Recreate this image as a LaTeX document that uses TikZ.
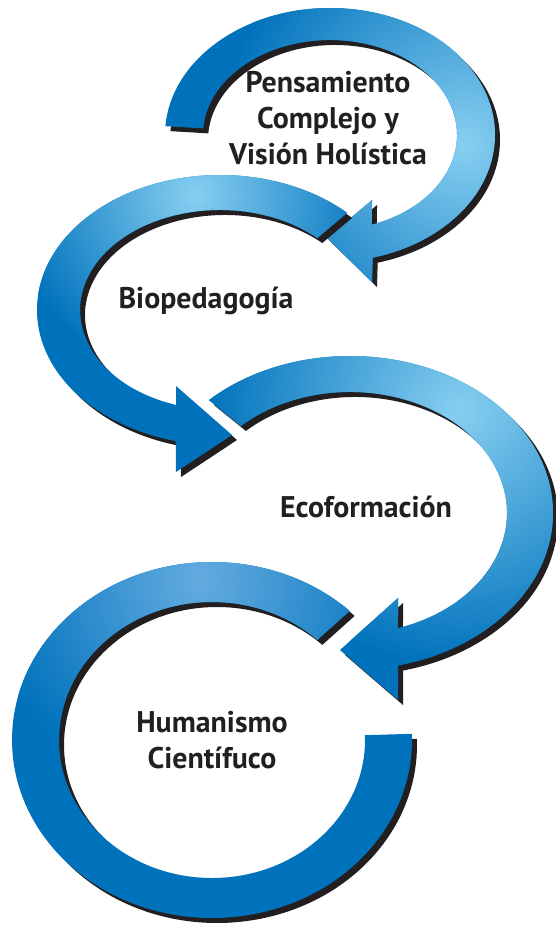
\documentclass[tikz,border=0pt]{standalone}
\usepackage{fontspec}
\setsansfont{PT Sans}
\usepackage{tikz}
\usetikzlibrary{positioning}
\definecolor{ArrowDark}{RGB}{0,114,188}
\definecolor{ArrowLight}{RGB}{135,207,241}
\definecolor{ArrowMid}{RGB}{100,172,224}
\definecolor{ShadowBlack}{RGB}{35,31,32}
\definecolor{TextBlack}{RGB}{35,31,32}

% loop outlines, relative to the centre of each loop
\newcommand{\looppensamiento}{(176:165 and 127) arc[start angle=176, end angle=-75, x radius=165, y radius=127]
  -- (42,-147) -- (-3,-103) -- (42,-65)
  -- (-70.7:127 and 95) arc[start angle=-70.7, end angle=176, x radius=127, y radius=95] -- cycle}
\newcommand{\loopbio}{(46:183 and 135) arc[start angle=46, end angle=256, x radius=183, y radius=135]
  -- (-44,-162) -- (12,-125) -- (-44,-76)
  -- (251.7:140 and 100) arc[start angle=251.7, end angle=46, x radius=140, y radius=100] -- cycle}
\newcommand{\loopeco}{(134:203 and 157) arc[start angle=134, end angle=-76.3, x radius=203, y radius=157]
  -- (48,-187) -- (-10,-137) -- (48,-85)
  -- (-72.2:157 and 121) arc[start angle=-72.2, end angle=134, x radius=157, y radius=121] -- cycle}
\newcommand{\loophum}{(46.5:200 and 178) arc[start angle=46.5, end angle=362, x radius=200, y radius=178]
  -- (362:153 and 138) arc[start angle=362, end angle=46.5, x radius=153, y radius=138] -- cycle}

\begin{document}
\begin{tikzpicture}[x=0.3mm, y=0.3mm,
    arrowshadow/.style={fill=ShadowBlack, shift={(5,-5)}},
    stagetext/.style={font=\sffamily\bfseries\fontsize{25.5}{30.5}\selectfont, text=TextBlack, align=center}]
  \useasboundingbox (0,0) rectangle (555,-928);

  % first loop
  \begin{scope}[shift={(330,-135)}]
    \fill[arrowshadow] \looppensamiento;
    \fill[ArrowDark] \looppensamiento;
    \begin{scope}
      \clip \looppensamiento;
      \shade[inner color=ArrowLight, outer color=ArrowDark] (135,-10) circle (245);
    \end{scope}
  \end{scope}

  % second loop
  \begin{scope}[shift={(220,-310)}]
    \fill[arrowshadow] \loopbio;
    \fill[ArrowDark] \loopbio;
    \begin{scope}
      \clip \loopbio;
      \shade[inner color=ArrowLight, outer color=ArrowDark] (-25,115) circle (185);
    \end{scope}
  \end{scope}

  % third loop
  \begin{scope}[shift={(350,-513)}]
    \fill[arrowshadow] \loopeco;
    \fill[ArrowDark] \loopeco;
    \begin{scope}
      \clip \loopeco;
      \shade[inner color=ArrowLight, outer color=ArrowDark] (110,103) circle (255);
    \end{scope}
  \end{scope}

  % last loop, no head
  \begin{scope}[shift={(212,-740)}]
    \fill[arrowshadow] \loophum;
    \fill[ArrowDark] \loophum;
    \begin{scope}
      \clip \loophum;
      \shade[inner color=ArrowMid, outer color=ArrowDark] (-12,160) circle (215);
    \end{scope}
  \end{scope}

  \node[stagetext] (pensamiento) at (328,-118) {Pensamiento\\Complejo y\\Visión Holística};
  \node[stagetext, anchor=base] (biopedagogia) at (206,-308) {Biopedagogía};
  \node[stagetext, anchor=base] (ecoformacion) at (366,-517) {Ecoformación};
  \node[stagetext] (humanismo) at (212,-740) {Humanismo\\Científuco};
\end{tikzpicture}
\end{document}
